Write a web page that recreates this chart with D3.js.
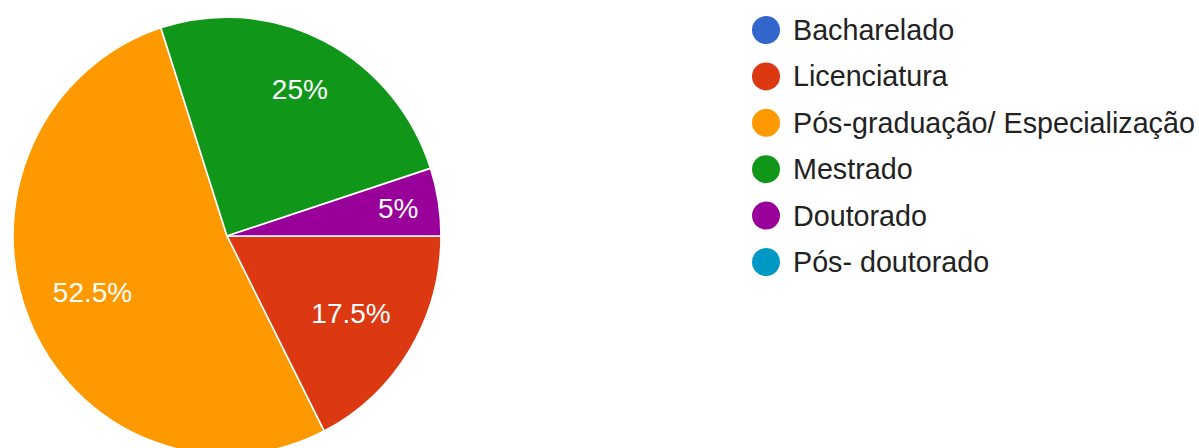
<!DOCTYPE html>
<html>
<head>
<meta charset="utf-8">
<script src="https://cdn.jsdelivr.net/npm/d3@7"></script>
<style>
  html, body { margin: 0; padding: 0; background: #fff; }
  svg { display: block; }
</style>
</head>
<body>
<svg id="chart" width="1199" height="448"></svg>
<script>
const categories = ["Bacharelado", "Licenciatura", "Pós-graduação/ Especialização", "Mestrado", "Doutorado", "Pós- doutorado"];
const values = [0, 17.5, 52.5, 25, 5, 0];
const colors = ["#3366cc", "#dc3912", "#ff9900", "#109618", "#990099", "#0099c6"];

const svg = d3.select("#chart");
const cx = 227, cy = 236, R = 214, stretchY = 1.023;
const font = "Arial, 'Liberation Sans', Helvetica, sans-serif";

const data = categories.map((c, i) => ({ name: c, value: values[i], color: colors[i] }));
const total = d3.sum(values);

const pie = d3.pie().value(d => d.value).sort(null)
  .startAngle(Math.PI / 2).endAngle(Math.PI / 2 + 2 * Math.PI);
const arcs = pie(data);
const arc = d3.arc().innerRadius(0).outerRadius(R);

const g = svg.append("g").attr("transform", `translate(${cx},${cy}) scale(1,${stretchY})`);
g.selectAll("path")
  .data(arcs.filter(a => a.data.value > 0))
  .join("path")
  .attr("d", arc)
  .attr("fill", d => d.data.color)
  .attr("stroke", "#fff")
  .attr("stroke-width", 1.6)
  .attr("stroke-linejoin", "round");

// labels
const lg = svg.append("g").attr("transform", `translate(${cx},${cy})`);
lg.selectAll("text")
  .data(arcs.filter(a => a.data.value > 0))
  .join("text")
  .attr("transform", d => {
    const frac = d.data.value / total;
    const lr = frac < 0.1 ? R * 0.81 : (frac < 0.3 && frac > 0.2 ? R * 0.75 : R * 0.68);
    const c = d3.arc().innerRadius(lr).outerRadius(lr).centroid(d);
    return `translate(${c[0]},${c[1] * stretchY})`;
  })
  .attr("text-anchor", "middle")
  .attr("dominant-baseline", "central")
  .attr("fill", "#fff")
  .attr("font-family", font)
  .attr("font-size", 28)
  .text(d => `${d3.format("")(d.data.value)}%`);

// legend
const legX = 766, legY0 = 30, legStep = 46.4;
const leg = svg.append("g");
const items = leg.selectAll("g")
  .data(data)
  .join("g")
  .attr("transform", (d, i) => `translate(${legX},${legY0 + i * legStep})`);
items.append("circle").attr("r", 14).attr("fill", d => d.color);
items.append("text")
  .attr("x", 27)
  .attr("dominant-baseline", "central")
  .attr("font-family", font)
  .attr("font-size", 28.7)
  .attr("fill", "#222")
  .text(d => d.name);
</script>
</body>
</html>
